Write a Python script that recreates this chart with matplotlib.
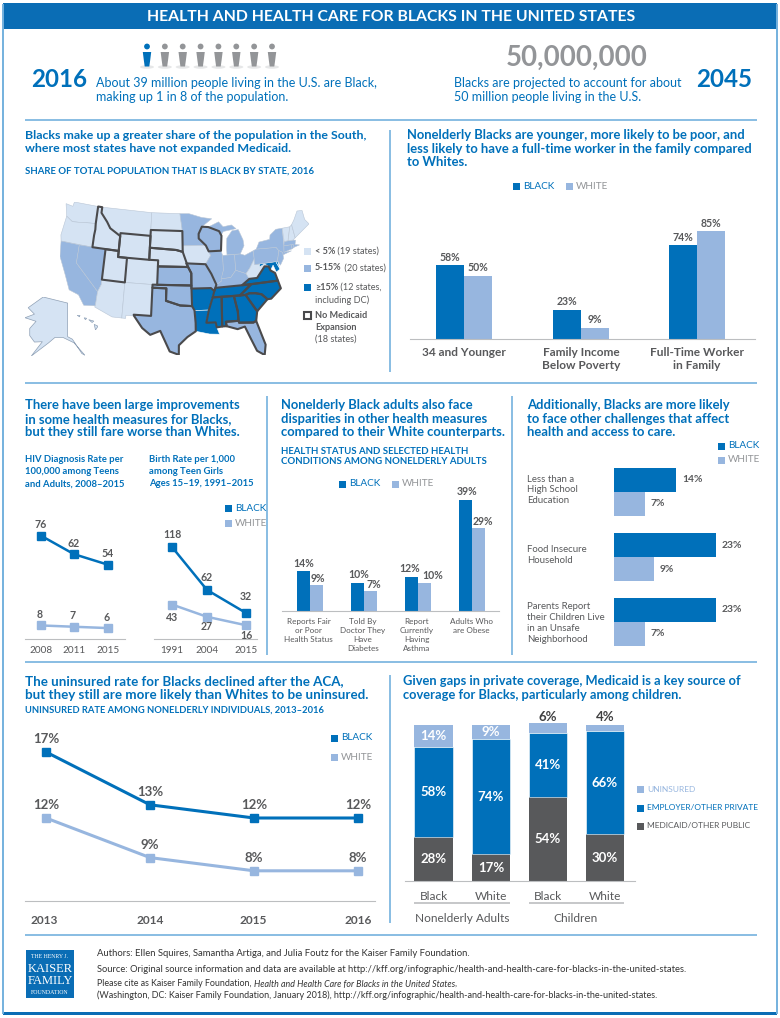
"""
Health and health care for Blacks in the U.S. - infographic page
All layout numbers are pixels of the 780x1018 page
"""

import matplotlib
matplotlib.use('Agg')
import matplotlib.pyplot as plt
import numpy as np
from matplotlib.patches import Polygon, Rectangle, Circle, Ellipse

plt.rcParams['font.family'] = ['Lato', 'DejaVu Sans']

W, H = 780, 1018
BLUE = '#0070BA'
MID = '#97B6DF'
PALE = '#D5E3F3'
RULE = '#74B1DE'
GRAY = '#58595B'
ICON = '#939598'

# population strip
PEOPLE_TOTAL = 8
PEOPLE_BLACK = 1

# map categories
LOW_STATES = ['WA', 'OR', 'ID', 'MT', 'ND', 'SD', 'WY', 'NE', 'IA', 'UT', 'CO', 'AZ', 'NM', 'WV', 'ME', 'NH', 'VT']
MID_STATES = ['CA', 'NV', 'MN', 'WI', 'IL', 'IN', 'MI', 'MI2', 'OH', 'MO', 'KS', 'OK', 'TX', 'KY', 'FL', 'PA', 'NY', 'NJ', 'CT', 'RI', 'MA']
HIGH_STATES = ['MS', 'AL', 'GA', 'SC', 'NC', 'VA', 'MD', 'DE', 'LA', 'AR', 'TN']
NO_EXPANSION = ['ID', 'WY', 'SD', 'NE', 'KS', 'UT', 'WI', 'MO', 'OK', 'TX', 'MS', 'AL', 'GA', 'SC', 'NC', 'VA', 'TN', 'FL']

# rough state outlines (lon, lat)
STATE_OUTLINES = {
    'WA': [(-124.7, 48.4), (-123, 48.2), (-122.8, 49), (-117, 49), (-117, 46), (-119, 45.9), (-121, 45.7), (-122.5, 45.6), (-124, 46.3)],
    'OR': [(-124, 46.3), (-122.5, 45.6), (-121, 45.7), (-119, 45.9), (-117, 46), (-116.9, 45), (-117, 44), (-117, 42), (-124.2, 42), (-124.5, 43)],
    'CA': [(-124.2, 42), (-120, 42), (-120, 39), (-114.6, 35), (-114.7, 32.7), (-117.1, 32.5), (-118.5, 34), (-120.6, 34.5), (-122, 36.8), (-123.8, 39.5)],
    'NV': [(-120, 42), (-114, 42), (-114, 36.2), (-114.6, 35), (-120, 39)],
    'ID': [(-117, 49), (-116, 49), (-116, 48), (-114.4, 46.6), (-113.5, 45.6), (-111, 44.5), (-111, 42), (-117, 42), (-117, 44), (-116.9, 45), (-117, 46)],
    'MT': [(-116, 49), (-104, 49), (-104, 45), (-111, 45), (-111, 44.5), (-113.5, 45.6), (-114.4, 46.6), (-116, 48)],
    'WY': [(-111, 45), (-104, 45), (-104, 41), (-111, 41)],
    'UT': [(-114, 42), (-111, 42), (-111, 41), (-109, 41), (-109, 37), (-114, 37)],
    'CO': [(-109, 41), (-102, 41), (-102, 37), (-109, 37)],
    'AZ': [(-114, 37), (-109, 37), (-109, 31.3), (-111, 31.3), (-114.8, 32.5), (-114.7, 32.7), (-114.6, 35), (-114, 36.2)],
    'NM': [(-109, 37), (-103, 37), (-103, 32), (-106.6, 32), (-106.5, 31.8), (-108.2, 31.8), (-108.2, 31.3), (-109, 31.3)],
    'ND': [(-104, 49), (-97.2, 49), (-96.6, 46), (-104, 46)],
    'SD': [(-104, 46), (-96.6, 46), (-96.5, 42.5), (-98, 42.8), (-104, 43)],
    'NE': [(-104, 43), (-98, 42.8), (-96.5, 42.5), (-95.3, 40), (-102, 40), (-102, 41), (-104, 41)],
    'KS': [(-102, 40), (-95.3, 40), (-94.6, 39), (-94.6, 37), (-102, 37)],
    'OK': [(-103, 37), (-94.6, 37), (-94.5, 33.7), (-97, 33.8), (-100, 34.5), (-100, 36.5), (-103, 36.5)],
    'TX': [(-103, 36.5), (-100, 36.5), (-100, 34.5), (-97, 33.8), (-94.5, 33.7), (-94, 33), (-93.8, 31), (-93.8, 29.7), (-95.5, 28.8), (-97.2, 27.5), (-97.2, 26), (-99, 26.5), (-101, 29.7), (-103, 29), (-104.7, 30), (-106.5, 31.8), (-106.6, 32), (-103, 32)],
    'MN': [(-97.2, 49), (-95, 49), (-92, 48.3), (-89.6, 48), (-92, 46.7), (-92.8, 45.5), (-92.8, 44.7), (-91.2, 43.5), (-96.5, 43.5), (-96.5, 45.3), (-96.6, 46)],
    'IA': [(-96.5, 43.5), (-91.2, 43.5), (-90.2, 41.8), (-91.4, 40.4), (-95.7, 40.6), (-96.5, 42.5)],
    'MO': [(-95.7, 40.6), (-91.4, 40.4), (-90.2, 38.8), (-89.2, 37), (-89.7, 36), (-90.4, 36.5), (-94.6, 36.5), (-94.6, 39), (-95.3, 40)],
    'AR': [(-94.6, 36.5), (-90.4, 36.5), (-89.7, 36), (-91, 33), (-94, 33), (-94.5, 33.7)],
    'LA': [(-94, 33), (-91, 33), (-91.6, 31), (-89.7, 31), (-89.5, 30.2), (-89, 29.1), (-91, 29.2), (-93.8, 29.7), (-93.8, 31)],
    'WI': [(-92, 46.7), (-90.5, 46.6), (-88, 45.8), (-87.5, 45), (-87.8, 42.5), (-90.6, 42.5), (-91.2, 43.5), (-92.8, 44.7), (-92.8, 45.5)],
    'IL': [(-90.6, 42.5), (-87.8, 42.5), (-87.5, 41.7), (-87.5, 39.3), (-88.1, 37.5), (-89.2, 37), (-90.2, 38.8), (-91.4, 40.4), (-90.2, 41.8)],
    'IN': [(-87.5, 41.7), (-84.8, 41.7), (-84.8, 39.1), (-86, 38), (-88.1, 37.9), (-87.5, 39.3)],
    'MI': [(-86.5, 41.76), (-83.5, 41.7), (-82.5, 43), (-82.6, 44), (-83.5, 45.8), (-85, 45.7), (-86.3, 44.5), (-86.5, 43)],
    'MI2': [(-90.5, 46.6), (-88, 47.4), (-87, 46.5), (-85, 46.7), (-84, 46), (-85, 45.9), (-87, 45.7), (-87.5, 45.2), (-88, 45.8)],
    'OH': [(-84.8, 41.7), (-83.5, 41.7), (-82.5, 41.4), (-80.5, 42), (-80.5, 40.6), (-81.7, 39.2), (-82.6, 38.4), (-84.8, 39.1)],
    'KY': [(-89.4, 36.5), (-89.2, 37), (-88.1, 37.5), (-88.1, 37.9), (-86, 38), (-84.8, 39.1), (-82.6, 38.4), (-82, 37.5), (-83.7, 36.6)],
    'TN': [(-90.1, 35), (-89.7, 36), (-89.4, 36.5), (-83.7, 36.6), (-81.7, 36.6), (-84.3, 35)],
    'MS': [(-91, 33), (-90.1, 35), (-88.2, 35), (-88.4, 30.3), (-89.5, 30.2), (-89.7, 31), (-91.6, 31)],
    'AL': [(-88.2, 35), (-85.6, 35), (-85, 32.5), (-85, 31), (-87.6, 31), (-87.5, 30.3), (-88.4, 30.3)],
    'GA': [(-85.6, 35), (-83.1, 35), (-81, 32.2), (-81.4, 30.7), (-82, 30.5), (-84.9, 30.7), (-85, 31), (-85, 32.5)],
    'FL': [(-87.6, 31), (-85, 31), (-84.9, 30.7), (-82, 30.5), (-81.4, 30.7), (-80, 26.8), (-80.4, 25.2), (-81.8, 26), (-82.8, 28), (-83.8, 30), (-85.3, 29.7), (-87.5, 30.3)],
    'SC': [(-83.1, 35), (-82.3, 35.2), (-81, 35.1), (-79.7, 34.8), (-78.6, 33.9), (-81, 32.2)],
    'NC': [(-84.3, 35), (-81.7, 36.6), (-75.9, 36.6), (-75.5, 35.3), (-77.8, 33.9), (-78.6, 33.9), (-79.7, 34.8), (-81, 35.1), (-82.3, 35.2), (-83.1, 35)],
    'VA': [(-83.7, 36.6), (-75.9, 36.6), (-76.3, 37.9), (-77.2, 38.4), (-77.5, 39.1), (-78.4, 39.2), (-79.3, 38.4), (-80.3, 37.5), (-82, 37.5)],
    'WV': [(-82.6, 38.4), (-81.7, 39.2), (-80.5, 40.6), (-80.5, 39.7), (-79.5, 39.7), (-79.5, 39.2), (-78.4, 39.6), (-77.8, 39.3), (-78.4, 39.2), (-79.3, 38.4), (-80.3, 37.5), (-82, 37.5)],
    'MD': [(-79.5, 39.7), (-75.8, 39.7), (-75.1, 38.4), (-76, 38), (-76.5, 39.2), (-77.2, 38.4), (-77.5, 39.1), (-77.8, 39.3), (-78.4, 39.6), (-79.5, 39.2)],
    'DE': [(-75.8, 39.7), (-75.4, 39.8), (-75.1, 38.4)],
    'PA': [(-80.5, 42), (-79.8, 42.2), (-75.3, 42), (-74.8, 41.4), (-75.4, 39.8), (-75.8, 39.7), (-80.5, 39.7)],
    'NY': [(-79.8, 42.2), (-79, 43.3), (-76.5, 43.5), (-76.3, 44.2), (-74.8, 45), (-73.3, 45), (-73.5, 42.1), (-73.7, 41), (-72, 41), (-74, 40.6), (-74, 41), (-74.8, 41.4), (-75.3, 42)],
    'NJ': [(-75.4, 39.8), (-74.8, 41.4), (-74, 41), (-74, 40), (-74.9, 39)],
    'CT': [(-73.7, 41), (-73.5, 42.05), (-71.8, 42), (-71.8, 41.3)],
    'RI': [(-71.8, 42), (-71.4, 42), (-71.3, 41.5), (-71.8, 41.3)],
    'MA': [(-73.5, 42.05), (-73.3, 42.75), (-71.3, 42.7), (-70.7, 42.6), (-71, 41.9), (-70, 41.7), (-71.3, 41.5), (-71.4, 42), (-71.8, 42)],
    'VT': [(-73.3, 45), (-71.5, 45), (-72.4, 42.75), (-73.3, 42.75)],
    'NH': [(-71.5, 45), (-71, 45.3), (-70.7, 43), (-71.3, 42.7), (-72.4, 42.75)],
    'ME': [(-71, 45.3), (-70.3, 46), (-69.2, 47.4), (-68, 47.3), (-67.8, 45.7), (-67, 44.8), (-70.7, 43)],
}
ALASKA = [(-141, 69.6), (-156.5, 71.3), (-166, 68.3), (-162, 66.5), (-168, 65.5), (-161, 64.5), (-165, 62.5), (-165, 60.5), (-162, 58.7), (-157, 58.8), (-164, 54.8), (-153, 58.5), (-149, 60), (-144, 60), (-137, 58.5), (-130, 55), (-132, 55.5), (-138, 59.5), (-141, 60.2)]
HAWAII = [[(-160, 22.2), (-159.3, 22.2), (-159.4, 21.8)], [(-158.3, 21.6), (-157.7, 21.5), (-158, 21.2)], [(-157.2, 21.2), (-156, 20.9), (-156.4, 20.6)], [(-155.9, 20.2), (-155, 19.8), (-155.6, 19)]]

# demographics (right top)
DEMO_GROUPS = ['34 and Younger', 'Family Income\nBelow Poverty', 'Full-Time Worker\nin Family']
DEMO_BLACK = [58, 23, 74]
DEMO_WHITE = [50, 9, 85]

# HIV and teen births
HIV_YEARS = ['2008', '2011', '2015']
HIV_BLACK = [76, 62, 54]
HIV_WHITE = [8, 7, 6]
BIRTH_YEARS = ['1991', '2004', '2015']
BIRTH_BLACK = [118, 62, 32]
BIRTH_WHITE = [43, 27, 16]

# health status
STATUS_GROUPS = ['Reports Fair\nor Poor\nHealth Status', 'Told By\nDoctor They\nHave\nDiabetes', 'Report\nCurrently\nHaving\nAsthma', 'Adults Who\nare Obese']
STATUS_BLACK = [14, 10, 12, 39]
STATUS_WHITE = [9, 7, 10, 29]

# other challenges
CHALLENGE_GROUPS = ['Less than a\nHigh School\nEducation', 'Food Insecure\nHousehold', 'Parents Report\ntheir Children Live\nin an Unsafe\nNeighborhood']
CHALLENGE_BLACK = [14, 23, 23]
CHALLENGE_WHITE = [7, 9, 7]

# uninsured rate
UNINS_YEARS = ['2013', '2014', '2015', '2016']
UNINS_BLACK = [17, 13, 12, 12]
UNINS_WHITE = [12, 9, 8, 8]

# coverage
COVER_GROUPS = ['Black', 'White', 'Black', 'White']
COVER_PUBLIC = [28, 17, 54, 30]
COVER_PRIVATE = [58, 74, 41, 66]
COVER_UNINSURED = [14, 9, 6, 4]

fig = plt.figure(figsize=(W / 100, H / 100), dpi=100)
page = fig.add_axes([0, 0, 1, 1])
page.set_xlim(0, W)
page.set_ylim(H, 0)
page.axis('off')


def px_axes(x0, y0, x1, y1):
    """ページのピクセル範囲に透明なAxesを置く"""
    ax = fig.add_axes([x0 / W, 1 - y1 / H, (x1 - x0) / W, (y1 - y0) / H])
    ax.patch.set_alpha(0)
    for s in ax.spines.values():
        s.set_visible(False)
    ax.tick_params(length=0)
    ax.set_xticks([])
    ax.set_yticks([])
    return ax


def put(x, y, s, size=8, color=GRAY, weight='normal', ha='left', **kw):
    return page.text(x, y, s, fontsize=size, color=color, fontweight=weight, ha=ha, va='center', **kw)


def rule(x0, y0, x1, y1, color=RULE, lw=1.2):
    page.plot([x0, x1], [y0, y1], color=color, lw=lw, solid_capstyle='butt')


def swatch(x, y, color, side=7):
    page.add_patch(Rectangle((x, y - side / 2), side, side, color=color, lw=0))


def heading(x, y, lines, size=9.35):
    for i, line in enumerate(lines):
        put(x, y + i * 13.6, line, size=size, color=BLUE, weight='bold')


def legend_pair(x1, y1, x2, y2, size=7.2):
    swatch(x1, y1, BLUE)
    put(x1 + 10, y1, 'BLACK', size=size, color=BLUE)
    swatch(x2, y2, MID)
    put(x2 + 10, y2, 'WHITE', size=size, color=ICON)


def val_label(ax, x, y, s, dx, dy, size=7.6, color=GRAY):
    # dx, dy are pixels, dy > 0 is up
    ax.annotate(s, (x, y), xytext=(dx * 0.72, dy * 0.72), textcoords='offset points',
                ha='center', va='center', fontsize=size, color=color, fontweight='bold',
                annotation_clip=False)


def draw_frame():
    rule(3, 4, 3, 1014, lw=1.4)
    rule(777, 4, 777, 1014, lw=1.4)
    page.add_patch(Rectangle((3, 3), 774, 26, color='#0A6DB5', lw=0))
    page.add_patch(Rectangle((3, 1012), 774, 3, color='#0A6DB5', lw=0))
    put(391, 16.5, 'HEALTH AND HEALTH CARE FOR BLACKS IN THE UNITED STATES', size=11.3,
        color='white', weight='bold', ha='center')
    for y in (120, 383, 662, 935):
        rule(25, y, 757, y)
    rule(390, 130, 390, 372)
    rule(267, 396, 267, 655)
    rule(512, 396, 512, 655)
    rule(390, 675, 390, 923)


def draw_top():
    xs = np.linspace(147, 272, PEOPLE_TOTAL)
    for i, x in enumerate(xs):
        c = BLUE if i < PEOPLE_BLACK else ICON
        page.add_patch(Ellipse((x, 67), 14, 3.5, color='#E6E7E8', lw=0))
        page.add_patch(Circle((x, 46.5), 2.9, color=c, lw=0))
        page.add_patch(Polygon([(x - 4.2, 52), (x + 4.2, 52), (x + 3.2, 60), (x + 2.3, 66.5),
                                (x - 2.3, 66.5), (x - 3.2, 60)], color=c, lw=0))
    put(59, 79, '2016', size=17.4, color=BLUE, weight='bold', ha='center')
    put(724, 79, '2045', size=17.4, color=BLUE, weight='bold', ha='center')
    put(96, 83, 'About 39 million people living in the U.S. are Black,', size=9, color=BLUE)
    put(96, 96.5, 'making up 1 in 8 of the population.', size=9, color=BLUE)
    put(454, 83, 'Blacks are projected to account for about', size=9, color=BLUE)
    put(454, 96.5, '50 million people living in the U.S.', size=9, color=BLUE)
    put(577, 58, '50,000,000', size=19.9, color=ICON, weight='bold', ha='center')


def albers(points):
    """円錐図法で経緯度を平面へ（元の地図に合わせて湾曲は弱め）"""
    lon = np.radians(np.array([p[0] for p in points]) + 96)
    lat = np.radians(np.array([p[1] for p in points]))
    p1, p2, p0 = np.radians(15), np.radians(35), np.radians(37.5)
    n = (np.sin(p1) + np.sin(p2)) / 2
    c = np.cos(p1) ** 2 + 2 * n * np.sin(p1)
    rho = np.sqrt(c - 2 * n * np.sin(lat)) / n
    rho0 = np.sqrt(c - 2 * n * np.sin(p0)) / n
    return np.column_stack([rho * np.sin(n * lon), rho0 - rho * np.cos(n * lon)])


def state_color(name):
    if name in HIGH_STATES:
        return BLUE
    return MID if name in MID_STATES else PALE


def draw_map():
    heading(25, 135, ['Blacks make up a greater share of the population in the South,',
                      'where most states have not expanded Medicaid.'], size=8.9)
    put(25, 171, 'SHARE OF TOTAL POPULATION THAT IS BLACK BY STATE, 2016', size=6.95, color=BLUE, weight='bold')

    ax = px_axes(60, 202, 309, 355)
    projected = {k: albers(v) for k, v in STATE_OUTLINES.items()}
    every = np.vstack(list(projected.values()))
    ax.set_xlim(every[:, 0].min(), every[:, 0].max())
    ax.set_ylim(every[:, 1].min(), every[:, 1].max())
    for name, pts in projected.items():
        ax.add_patch(Polygon(pts, facecolor=state_color(name), edgecolor='white' if name in HIGH_STATES else '#B9C6D6', lw=0.4))
    for name in NO_EXPANSION:
        ax.add_patch(Polygon(projected[name], fill=False, edgecolor='#4A4A4C', lw=1.5, joinstyle='round', zorder=5))

    ak = px_axes(25, 297, 85, 356)
    ak_xy = np.array(ALASKA)
    ak.set_xlim(ak_xy[:, 0].min(), ak_xy[:, 0].max())
    ak.set_ylim(ak_xy[:, 1].min(), ak_xy[:, 1].max())
    ak.add_patch(Polygon(ak_xy, facecolor=PALE, edgecolor='#8FA0B5', lw=0.5))

    hi = px_axes(77, 315, 98, 330)
    hi.set_xlim(-160, -155)
    hi.set_ylim(19, 22.2)
    for isle in HAWAII:
        hi.add_patch(Polygon(isle, facecolor=PALE, edgecolor='#8FA0B5', lw=0.5))

    swatch(304, 251, PALE)
    swatch(304, 268, MID)
    swatch(304, 287, BLUE)
    page.add_patch(Rectangle((304, 311.5), 7, 7, facecolor='white', edgecolor='#4A4A4C', lw=1.5))
    for y, bold, rest in [(251, '< 5%', ' (19 states)'), (268, '5-15%', ' (20 states)'), (287, '\u226515%', ' (12 states,')]:
        b = put(315, y, bold, size=6.6, weight='bold')
        page.annotate(rest, xy=(1, 0.5), xycoords=b, va='center', fontsize=6.6, color=GRAY)
    put(315, 300, 'including DC)', size=6.6)
    put(315, 315, 'No Medicaid', size=6.6, weight='bold')
    put(315, 327, 'Expansion', size=6.6, weight='bold')
    put(315, 339, '(18 states)', size=6.6)


def draw_demographics():
    heading(407, 135, ['Nonelderly Blacks are younger, more likely to be poor, and',
                       'less likely to have a full-time worker in the family compared',
                       'to Whites.'])
    legend_pair(513, 186, 566, 186)
    # 1%あたり1.27px
    ax = px_axes(410, 210, 755, 339)
    ax.set_xlim(410, 755)
    ax.set_ylim(0, 129 / 1.27)
    centers = np.array([464, 581, 697])
    ax.bar(centers - 14, DEMO_BLACK, 28, color=BLUE)
    ax.bar(centers + 14, DEMO_WHITE, 28, color=MID)
    for c, b, w in zip(centers, DEMO_BLACK, DEMO_WHITE):
        val_label(ax, c - 14, b, f'{b}%', 0, 8)
        val_label(ax, c + 14, w, f'{w}%', 0, 8)
    ax.spines['bottom'].set_visible(True)
    ax.spines['bottom'].set_color('#BCBEC0')
    for c, s in zip(centers, DEMO_GROUPS):
        put(c, 352 if '\n' not in s else 359, s, size=8.6, weight='bold', ha='center', linespacing=1.15)


def draw_rates():
    heading(25, 405, ['There have been large improvements',
                      'in some health measures for Blacks,',
                      'but they still fare worse than Whites.'])
    for i, s in enumerate(['HIV Diagnosis Rate per', '100,000 among Teens', 'and Adults, 2008\u20132015']):
        put(25, 460 + i * 12, s, size=6.8, color=BLUE, weight='bold')
    for i, s in enumerate(['Birth Rate per 1,000', 'among Teen Girls', 'Ages 15\u201319, 1991\u20132015']):
        put(149, 460 + i * 12, s, size=6.8, color=BLUE, weight='bold')
    legend_pair(225, 508, 225, 523)

    # HIV: 0 is at y=636, 1.32 px per unit
    a1 = px_axes(25, 520, 125, 639)
    a1.set_xlim(25, 125)
    a1.set_ylim(-3 / 1.32, 116 / 1.32)
    xs1 = [41, 74, 108]
    a1.plot(xs1, HIV_WHITE, '-s', color=MID, lw=1.8, ms=6, clip_on=False)
    a1.plot(xs1, HIV_BLACK, '-s', color=BLUE, lw=1.8, ms=6, clip_on=False)
    for x, b, w in zip(xs1, HIV_BLACK, HIV_WHITE):
        val_label(a1, x, b, str(b), 0, 11)
        val_label(a1, x - 1, w, str(w), 0, 11)

    # births: 0 is at y=637.5, 0.767 px per unit
    a2 = px_axes(154, 520, 257, 639)
    a2.set_xlim(154, 257)
    a2.set_ylim(-1.5 / 0.767, 117.5 / 0.767)
    xs2 = [172, 207, 246]
    a2.plot(xs2, BIRTH_WHITE, '-s', color=MID, lw=1.8, ms=6, clip_on=False)
    a2.plot(xs2, BIRTH_BLACK, '-s', color=BLUE, lw=1.8, ms=6, clip_on=False)
    for x, b, w in zip(xs2, BIRTH_BLACK, BIRTH_WHITE):
        val_label(a2, x, b, str(b), 0, 12 if b > 40 else 16)
        val_label(a2, x, w, str(w), 0, -13 if w > 40 else -10)

    for ax, xs, years in [(a1, xs1, HIV_YEARS), (a2, xs2, BIRTH_YEARS)]:
        ax.spines['bottom'].set_visible(True)
        ax.spines['bottom'].set_color('#BCBEC0')
        ax.set_xticks(xs, years, fontsize=7.2, color=GRAY)
        ax.tick_params(axis='x', pad=5)


def draw_status():
    heading(281, 405, ['Nonelderly Black adults also face',
                       'disparities in other health measures',
                       'compared to their White counterparts.'])
    put(281, 451, 'HEALTH STATUS AND SELECTED HEALTH', size=6.9, color=BLUE, weight='bold')
    put(281, 462, 'CONDITIONS AMONG NONELDERLY ADULTS', size=6.9, color=BLUE, weight='bold')
    legend_pair(339, 484, 392, 484)
    ax = px_axes(282, 495, 499, 611)
    ax.set_xlim(282, 499)
    ax.set_ylim(0, 116 / 2.85)
    centers = np.array([309.5, 364, 418, 472])
    ax.bar(centers - 6.5, STATUS_BLACK, 13, color=BLUE)
    ax.bar(centers + 6.5, STATUS_WHITE, 13, color=MID)
    # ラベルが重ならないよう横にずらす
    for c, b, w, dxb, dxw in zip(centers, STATUS_BLACK, STATUS_WHITE, [1, 1, -2, 2], [2, 3, 8, 4]):
        val_label(ax, c - 6.5, b, f'{b}%', dxb, 8)
        val_label(ax, c + 6.5, w, f'{w}%', dxw, 7)
    ax.spines['bottom'].set_visible(True)
    ax.spines['bottom'].set_color('#BCBEC0')
    for c, s in zip(centers, STATUS_GROUPS):
        page.text(c - 1, 618, s, fontsize=5.9, color=GRAY, ha='center', va='top', linespacing=1.32)


def draw_challenges():
    heading(527, 405, ['Additionally, Blacks are more likely',
                       'to face other challenges that affect',
                       'health and access to care.'])
    legend_pair(718, 446, 718, 460)
    # 1%あたり4.45px
    ax = px_axes(614, 465, 760, 650)
    ax.set_xlim(0, 146 / 4.45)
    ax.set_ylim(650, 465)
    rows = np.array([492, 557, 622])
    ax.barh(rows - 12, CHALLENGE_BLACK, 24, color=BLUE)
    ax.barh(rows + 12, CHALLENGE_WHITE, 24, color=MID)
    for r, b, w in zip(rows, CHALLENGE_BLACK, CHALLENGE_WHITE):
        ax.annotate(f'{b}%', (b, r - 12), xytext=(4, 0), textcoords='offset points', va='center',
                    fontsize=7.4, color=GRAY, fontweight='bold')
        ax.annotate(f'{w}%', (w, r + 12), xytext=(4, 0), textcoords='offset points', va='center',
                    fontsize=7.4, color=GRAY, fontweight='bold')
    for y, s in zip([490, 555, 623], CHALLENGE_GROUPS):
        put(527, y, s, size=6.9, linespacing=1.28)


def draw_uninsured():
    heading(25, 681, ['The uninsured rate for Blacks declined after the ACA,',
                      'but they still are more likely than Whites to be uninsured.'], size=9.65)
    put(25, 710, 'UNINSURED RATE AMONG NONELDERLY INDIVIDUALS, 2013\u20132016', size=6.75, color=BLUE, weight='bold')
    legend_pair(331, 738, 331, 757)
    # 1%あたり13.2px、17%がy=752
    ax = px_axes(25, 735, 375, 901)
    ax.set_xlim(25, 375)
    ax.set_ylim(17 - 149 / 13.2, 17 + 17 / 13.2)
    xs = [46, 150, 254, 358]
    ax.plot(xs, UNINS_WHITE, '-s', color=MID, lw=2.2, ms=6)
    ax.plot(xs, UNINS_BLACK, '-s', color=BLUE, lw=2.2, ms=6, clip_on=False)
    for x, b, w in zip(xs, UNINS_BLACK, UNINS_WHITE):
        val_label(ax, x, b, f'{b}%', 0, 13, size=9.5)
        val_label(ax, x, w, f'{w}%', 0, 13, size=9.5)
    ax.spines['bottom'].set_visible(True)
    ax.spines['bottom'].set_color('#BCBEC0')
    ax.set_xticks([44, 150, 253, 358], UNINS_YEARS, fontsize=8.6, color=GRAY, fontweight='bold')
    ax.tick_params(axis='x', pad=10)


def draw_coverage():
    heading(403, 681, ['Given gaps in private coverage, Medicaid is a key source of',
                       'coverage for Blacks, particularly among children.'], size=9.25)
    ax = px_axes(405, 725, 635, 881)
    ax.set_xlim(405, 635)
    ax.set_ylim(0, 100)
    centers = np.array([433.5, 491, 548, 605])
    pub = np.array(COVER_PUBLIC)
    pri = np.array(COVER_PRIVATE)
    uni = np.array(COVER_UNINSURED)
    ax.bar(centers, pub, 38.5, color=GRAY, clip_on=False)
    ax.bar(centers, pri, 38.5, bottom=pub, color=BLUE, edgecolor='white', lw=0.4, clip_on=False)
    ax.bar(centers, uni, 38.5, bottom=pub + pri, color=MID, clip_on=False)
    for c, a, b, u in zip(centers, pub, pri, uni):
        val_label(ax, c, a / 2, f'{a}%', 0, 0, size=9.5, color='white')
        val_label(ax, c, a + b / 2, f'{b}%', 0, 0, size=9.5, color='white')
        if u > 8:
            val_label(ax, c, a + b + u / 2, f'{u}%', 0, 0, size=9.5, color='white')
        else:
            val_label(ax, c, 100, f'{u}%', 0, 8, size=9.5, color='#404041')
    ax.spines['bottom'].set_visible(True)
    ax.spines['bottom'].set_color('#BCBEC0')
    ax.set_xticks(centers, COVER_GROUPS, fontsize=8.6, color=GRAY)
    ax.tick_params(axis='x', pad=7)
    rule(414, 903, 510, 903, color='#BCBEC0')
    rule(529, 903, 624, 903, color='#BCBEC0')
    put(462, 918, 'Nonelderly Adults', size=8.6, ha='center')
    put(576, 918, 'Children', size=8.6, ha='center')
    swatch(637, 789, MID)
    put(647, 789, 'UNINSURED', size=6.0, color=MID)
    swatch(637, 808, BLUE)
    put(647, 808, 'EMPLOYER/OTHER PRIVATE', size=6.0, color=BLUE)
    swatch(637, 826, GRAY)
    put(647, 826, 'MEDICAID/OTHER PUBLIC', size=6.0)


def draw_footer():
    page.add_patch(Rectangle((26, 950), 48, 48, color='#0A6DB5', lw=0))
    for y, s, size in [(957, 'THE HENRY J.', 4.2), (969, 'KAISER', 9), (981, 'FAMILY', 9), (993, 'FOUNDATION', 4.2)]:
        put(50, y, s, size=size, color='white', ha='center', family='Liberation Serif')
    dark = '#333333'
    put(97, 954, 'Authors: Ellen Squires, Samantha Artiga, and Julia Foutz for the Kaiser Family Foundation.', size=6.8, color=dark)
    put(97, 969, 'Source: Original source information and data are available at http://kff.org/infographic/health-and-health-care-for-blacks-in-the-united-states.', size=6.75, color=dark)
    first = put(97, 984, 'Please cite as Kaiser Family Foundation, ', size=6.4, color=dark)
    title = page.annotate('Health and Health Care for Blacks in the United States', xy=(1, 0.5), xycoords=first,
                          va='center', fontsize=6.4, color=dark, fontstyle='italic')
    page.annotate(',', xy=(1, 0.5), xycoords=title, va='center', fontsize=6.4, color=dark)
    put(97, 995, '(Washington, DC: Kaiser Family Foundation, January 2018), http://kff.org/infographic/health-and-health-care-for-blacks-in-the-united-states.', size=6.45, color=dark)


def main():
    draw_frame()
    draw_top()
    draw_map()
    draw_demographics()
    draw_rates()
    draw_status()
    draw_challenges()
    draw_uninsured()
    draw_coverage()
    draw_footer()
    fig.savefig('out.png', dpi=100)
    plt.close(fig)


if __name__ == "__main__":
    main()
